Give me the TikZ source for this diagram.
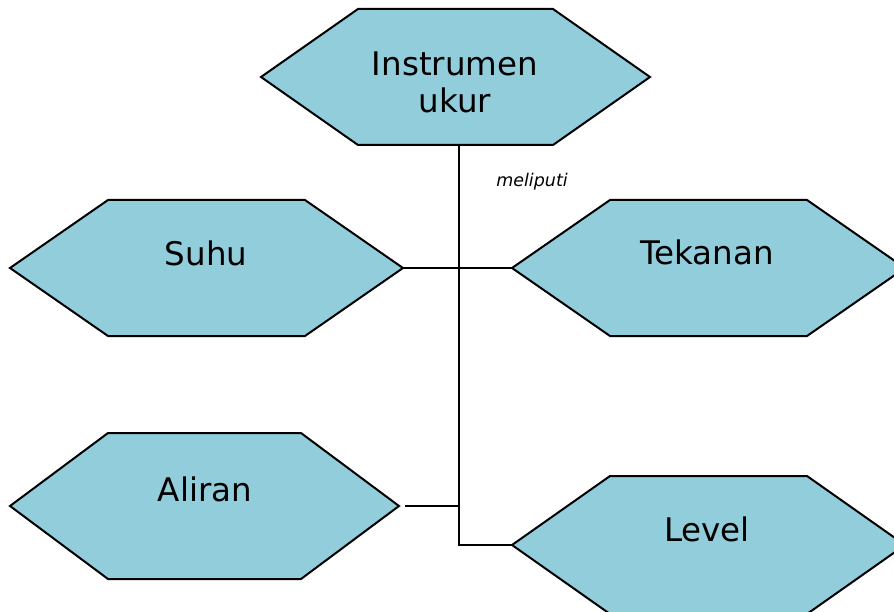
\documentclass[tikz,border=0pt]{standalone}
\usepackage{fontspec}
\setmainfont{DejaVu Sans}
\definecolor{hexfill}{RGB}{146,205,220}
\tikzset{
  hexbase/.style={rectangle, inner sep=0pt, outer sep=0pt},
  hexshape/.style={draw=black, line width=2pt, fill=hexfill, line join=miter},
  bigtext/.style={font=\fontsize{32.5}{37}\selectfont, inner sep=0pt, anchor=base, text=black},
  smalltext/.style={font=\fontsize{17.5}{20}\selectfont\itshape, inner sep=0pt, anchor=base},
  conn/.style={draw=black, line width=2pt}
}
\newcommand{\hexdraw}[2]{%
  \path[hexshape] (#1.west) -- ([xshift=#2]#1.north west) -- ([xshift=-#2]#1.north east)
    -- (#1.east) -- ([xshift=-#2]#1.south east) -- ([xshift=#2]#1.south west) -- cycle;}
\begin{document}
\begin{tikzpicture}[x=1pt, y=-1pt]
\useasboundingbox (0,0) rectangle (894,612);
% hexagon frames
\node[hexbase, minimum width=389pt, minimum height=136pt] (top) at (455.5,77) {};
\node[hexbase, minimum width=393pt, minimum height=136pt] (suhu) at (206.5,268) {};
\node[hexbase, minimum width=393pt, minimum height=136pt] (tekanan) at (708.5,268) {};
\node[hexbase, minimum width=389pt, minimum height=146pt] (aliran) at (204.5,506) {};
\node[hexbase, minimum width=393pt, minimum height=138pt] (level) at (708.5,545) {};
\hexdraw{top}{97pt}
\hexdraw{suhu}{98pt}
\hexdraw{tekanan}{98pt}
\hexdraw{aliran}{98pt}
\hexdraw{level}{98pt}
% texts
\node[bigtext] (ttop1) at (455,76) {Instrumen};
\node[bigtext] (ttop2) at (455,113) {ukur};
\node[bigtext] (tsuhu) at (206,266) {Suhu};
\node[bigtext] (ttekanan) at (707,265) {Tekanan};
\node[bigtext] (taliran) at (205,501) {Aliran};
\node[bigtext] (tlevel) at (707,541) {Level};
\node[smalltext] (meliputi) at (532,187) {meliputi};
% connectors
\coordinate (spine) at ([xshift=3pt]top.south);
\draw[conn] (spine) -- (spine |- level.west) -- (level.west);
\draw[conn] (suhu.east) -- (tekanan.west);
\draw[conn] ([xshift=6pt]aliran.east) -- (spine |- aliran.east);
\end{tikzpicture}
\end{document}
